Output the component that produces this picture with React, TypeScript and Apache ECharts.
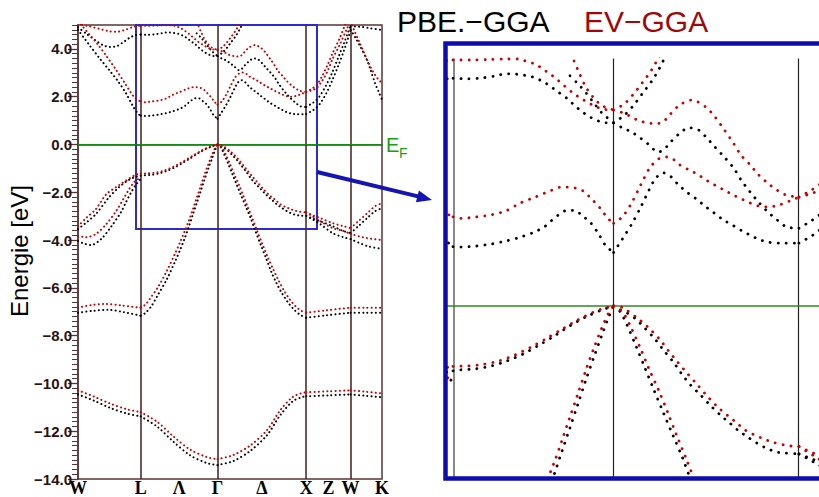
import React, { useEffect, useRef } from "react";
import * as echarts from "echarts";

// high-symmetry points along the path W-L-Γ-X-W-K (units 2π/a)
const K_W1 = 0;
const K_L = 0.707;
const K_G = 1.573;
const K_X = 2.573;
const K_W2 = 3.073;
const K_K = 3.427;
const symmetryK = [K_W1, K_L, K_G, K_X, K_W2, K_K];
const kLabelPositions = [0, 0.707, 1.14, 1.573, 2.073, 2.573, 2.823, 3.073, 3.427];
const kLabelNames = ["W", "L", "Λ", "Γ", "Δ", "X", "Z", "W", "K"];

// ---------- PBE-GGA (black) ----------
const pbeBand1 = [[0,-10.46],[0.18,-10.72],[0.36,-11.02],[0.55,-11.26],[0.707,-11.38],[0.89,-11.8],[1.07,-12.42],[1.26,-13.0],[1.45,-13.33],[1.573,-13.42],[1.75,-13.25],[1.94,-12.83],[2.13,-12.17],[2.28,-11.33],[2.42,-10.75],[2.52,-10.58],[2.573,-10.54],[2.82,-10.5],[3.073,-10.46],[3.25,-10.52],[3.427,-10.58]];
const pbeBand2 = [[0,-7.04],[0.17,-6.96],[0.34,-6.92],[0.52,-7.02],[0.707,-7.17],[0.76,-7.05],[0.83,-6.75],[0.9,-6.3],[1.0,-5.65],[1.1,-4.85],[1.15,-4.42],[1.2,-3.95],[1.252,-3.41],[1.295,-2.93],[1.338,-2.46],[1.381,-1.98],[1.424,-1.49],[1.467,-1.03],[1.51,-0.59],[1.549,-0.2],[1.573,0]];
const pbeBand3 = [[1.573,0],[1.61,-0.12],[1.645,-0.38],[1.694,-0.81],[1.742,-1.25],[1.791,-1.7],[1.842,-2.16],[1.893,-2.61],[1.943,-3.05],[2.0,-3.62],[2.06,-4.2],[2.12,-4.76],[2.18,-5.34],[2.24,-5.82],[2.3,-6.23],[2.37,-6.62],[2.44,-6.93],[2.51,-7.14],[2.573,-7.25],[2.8,-7.15],[3.073,-7.04],[3.25,-7.04],[3.427,-7.04]];
const pbeBand4 = [[0,-3.54],[0.1,-3.25],[0.2,-2.92],[0.35,-2.21],[0.45,-1.83],[0.54,-1.56],[0.63,-1.38],[0.707,-1.31],[0.745,-1.29],[0.831,-1.27],[0.917,-1.21],[0.998,-1.11],[1.085,-0.97],[1.171,-0.79],[1.252,-0.61],[1.338,-0.4],[1.424,-0.22],[1.51,-0.08],[1.573,0],[1.596,-0.06],[1.645,-0.14],[1.695,-0.27],[1.742,-0.45],[1.797,-0.67],[1.842,-0.89],[1.895,-1.13],[1.94,-1.37],[1.989,-1.6],[2.043,-1.8],[2.098,-2.02],[2.148,-2.2],[2.198,-2.36],[2.247,-2.52],[2.297,-2.65],[2.346,-2.77],[2.396,-2.87],[2.452,-2.95],[2.495,-2.97],[2.573,-2.99],[2.65,-3.1],[2.73,-3.21],[2.87,-3.42],[2.99,-3.62],[3.073,-3.71],[3.16,-3.42],[3.26,-3.08],[3.35,-2.79],[3.427,-2.67]];
const pbeBand5a = [[0,-4.04],[0.07,-4.15],[0.147,-4.21],[0.26,-3.96],[0.37,-3.46],[0.485,-2.83],[0.54,-2.42],[0.6,-2.0],[0.65,-1.7],[0.707,-1.45]];
const pbeBand5b = [[2.573,-2.99],[2.65,-3.15],[2.73,-3.33],[2.87,-3.71],[2.99,-3.88],[3.073,-3.96],[3.26,-4.25],[3.427,-4.37]];
const pbeBand6 = [[0,4.8],[0.12,4.2],[0.24,3.62],[0.35,3.12],[0.45,2.65],[0.54,2.15],[0.62,1.6],[0.67,1.32],[0.707,1.2],[0.75,1.19],[0.83,1.21],[0.91,1.25],[0.99,1.31],[1.07,1.39],[1.15,1.5],[1.2,1.6],[1.24,1.73],[1.28,1.85],[1.32,1.93],[1.365,1.93],[1.405,1.82],[1.445,1.7],[1.49,1.47],[1.53,1.22],[1.573,1.08],[1.62,1.35],[1.67,1.65],[1.72,2.0],[1.765,2.35],[1.8,2.58],[1.84,2.69],[1.88,2.62],[1.925,2.44],[1.975,2.28],[2.02,2.16],[2.065,2.02],[2.115,1.88],[2.165,1.74],[2.22,1.62],[2.265,1.52],[2.31,1.43],[2.355,1.35],[2.405,1.29],[2.47,1.27],[2.573,1.27],[2.63,1.39],[2.68,1.52],[2.73,1.72],[2.8,2.15],[2.87,2.72],[2.94,3.35],[3.0,3.95],[3.05,4.5],[3.073,4.8],[3.13,4.45],[3.19,4.05],[3.25,3.6],[3.3,3.1],[3.35,2.55],[3.39,2.2],[3.427,1.87]];
const pbeBand7 = [[0,4.9],[0.1,4.62],[0.2,4.35],[0.28,4.16],[0.36,4.08],[0.44,4.12],[0.51,4.28],[0.58,4.46],[0.65,4.58],[0.707,4.6],[0.785,4.59],[0.865,4.61],[0.94,4.65],[0.99,4.69],[1.03,4.69],[1.07,4.67],[1.115,4.65],[1.155,4.6],[1.195,4.53],[1.235,4.43],[1.275,4.32],[1.32,4.2],[1.36,4.06],[1.405,3.92],[1.445,3.82],[1.49,3.74],[1.53,3.7],[1.573,3.7],[1.62,3.6],[1.668,3.52],[1.715,3.4],[1.76,3.27],[1.814,3.11],[1.845,3.16],[1.875,3.29],[1.93,3.49],[1.98,3.6],[2.03,3.56],[2.07,3.42],[2.12,3.21],[2.17,3.01],[2.22,2.79],[2.26,2.55],[2.31,2.3],[2.355,2.1],[2.405,1.9],[2.455,1.74],[2.505,1.6],[2.573,1.57],[2.63,1.7],[2.68,1.83],[2.73,2.05],[2.8,2.5],[2.87,3.05],[2.94,3.7],[3.0,4.25],[3.05,4.75],[3.073,4.95],[3.2,4.92],[3.3,4.86],[3.427,4.79]];
const pbeBand8 = [[1.573,3.7],[1.63,3.85],[1.68,4.05],[1.73,4.3],[1.78,4.55],[1.82,4.8],[1.86,5.1],[1.9,5.4]];
const pbeBand9 = [[1.338,4.65],[1.381,4.49],[1.424,4.31],[1.467,4.1],[1.51,3.9],[1.573,3.7]];

// ---------- EV-GGA (red) ----------
const evBand1 = [[0,-10.29],[0.18,-10.55],[0.36,-10.84],[0.55,-11.08],[0.707,-11.2],[0.89,-11.6],[1.07,-12.2],[1.26,-12.76],[1.45,-13.08],[1.573,-13.17],[1.75,-13.0],[1.94,-12.6],[2.13,-11.96],[2.28,-11.12],[2.42,-10.57],[2.52,-10.41],[2.573,-10.37],[2.82,-10.33],[3.073,-10.29],[3.25,-10.35],[3.427,-10.42]];
const evBand2 = [[0,-6.83],[0.15,-6.72],[0.3,-6.67],[0.5,-6.74],[0.707,-6.83],[0.76,-6.7],[0.81,-6.46],[0.9,-5.98],[1.0,-5.3],[1.1,-4.52],[1.15,-4.1],[1.2,-3.65],[1.252,-3.17],[1.295,-2.71],[1.338,-2.24],[1.381,-1.77],[1.424,-1.29],[1.467,-0.85],[1.51,-0.44],[1.549,-0.12],[1.573,0]];
const evBand3 = [[1.573,0],[1.622,-0.12],[1.668,-0.44],[1.715,-0.83],[1.764,-1.27],[1.818,-1.72],[1.866,-2.16],[1.915,-2.63],[1.963,-3.07],[2.02,-3.62],[2.08,-4.18],[2.14,-4.72],[2.2,-5.22],[2.26,-5.68],[2.32,-6.1],[2.39,-6.5],[2.46,-6.8],[2.52,-6.97],[2.573,-7.04],[2.8,-6.94],[3.073,-6.83],[3.25,-6.83],[3.427,-6.83]];
const evBand4 = [[0,-3.42],[0.1,-3.05],[0.2,-2.71],[0.32,-2.08],[0.46,-1.71],[0.58,-1.42],[0.65,-1.27],[0.707,-1.22],[0.788,-1.21],[0.869,-1.18],[0.955,-1.11],[1.041,-0.99],[1.128,-0.83],[1.209,-0.66],[1.295,-0.47],[1.381,-0.28],[1.467,-0.12],[1.51,-0.06],[1.573,0],[1.62,-0.03],[1.72,-0.3],[1.77,-0.47],[1.825,-0.69],[1.87,-0.91],[1.92,-1.14],[1.97,-1.36],[2.02,-1.57],[2.09,-1.87],[2.14,-2.06],[2.19,-2.22],[2.24,-2.37],[2.28,-2.5],[2.33,-2.6],[2.38,-2.68],[2.43,-2.75],[2.51,-2.82],[2.573,-2.84],[2.65,-2.97],[2.73,-3.08],[2.87,-3.29],[2.99,-3.42],[3.073,-3.5],[3.16,-3.21],[3.26,-2.88],[3.35,-2.58],[3.427,-2.46]];
const evBand5a = [[0,-3.83],[0.09,-3.88],[0.2,-3.75],[0.32,-3.33],[0.43,-2.79],[0.51,-2.29],[0.58,-1.85],[0.64,-1.55],[0.707,-1.39]];
const evBand5b = [[2.573,-2.84],[2.65,-3.02],[2.73,-3.21],[2.87,-3.5],[2.99,-3.62],[3.073,-3.75],[3.26,-3.92],[3.427,-4.0]];
const evBand6 = [[0,5.15],[0.05,4.95],[0.13,4.6],[0.22,4.2],[0.32,3.7],[0.43,3.12],[0.54,2.5],[0.6,2.15],[0.65,1.92],[0.707,1.8],[0.75,1.77],[0.83,1.8],[0.91,1.84],[0.99,1.92],[1.07,2.08],[1.15,2.2],[1.24,2.34],[1.29,2.4],[1.325,2.4],[1.37,2.38],[1.41,2.32],[1.455,2.16],[1.5,1.98],[1.54,1.78],[1.573,1.67],[1.62,1.8],[1.67,2.08],[1.72,2.45],[1.77,2.8],[1.82,2.98],[1.86,3.01],[1.9,2.95],[1.93,2.85],[1.98,2.75],[2.03,2.65],[2.07,2.55],[2.12,2.44],[2.17,2.34],[2.22,2.24],[2.265,2.16],[2.31,2.08],[2.355,2.02],[2.405,2.0],[2.465,2.04],[2.535,2.14],[2.573,2.2],[2.63,2.26],[2.69,2.36],[2.75,2.65],[2.81,3.04],[2.87,3.58],[2.95,4.17],[3.03,4.83],[3.073,5.15],[3.12,4.72],[3.17,4.3],[3.22,3.88],[3.27,3.45],[3.33,3.02],[3.38,2.75],[3.427,2.56]];
const evBand7 = [[0,5.05],[0.12,4.95],[0.24,4.84],[0.35,4.74],[0.45,4.72],[0.55,4.82],[0.63,4.93],[0.707,4.97],[0.8,4.97],[0.9,4.98],[1.0,4.99],[1.065,4.99],[1.11,4.93],[1.15,4.89],[1.19,4.79],[1.23,4.69],[1.27,4.57],[1.31,4.44],[1.355,4.3],[1.395,4.2],[1.44,4.1],[1.48,4.02],[1.53,3.97],[1.573,3.96],[1.625,3.9],[1.67,3.82],[1.71,3.74],[1.76,3.7],[1.8,3.68],[1.84,3.72],[1.875,3.86],[1.93,4.06],[1.995,4.16],[2.07,4.02],[2.12,3.82],[2.17,3.56],[2.22,3.29],[2.26,3.05],[2.31,2.85],[2.355,2.65],[2.405,2.48],[2.455,2.34],[2.505,2.24],[2.573,2.2],[2.63,2.32],[2.69,2.48],[2.75,2.85],[2.81,3.3],[2.87,3.82],[2.95,4.45],[3.01,5.0],[3.05,5.3]];
const evBand8 = [[1.573,3.96],[1.63,4.08],[1.68,4.28],[1.73,4.52],[1.78,4.78],[1.82,5.05],[1.86,5.35]];
const evBand9 = [[1.36,4.95],[1.383,4.75],[1.424,4.42],[1.467,4.2],[1.51,4.05],[1.573,3.96]];

const pbeBands = [pbeBand1, pbeBand2, pbeBand3, pbeBand4, pbeBand5a, pbeBand5b, pbeBand6, pbeBand7, pbeBand8, pbeBand9];
const evBands = [evBand1, evBand2, evBand3, evBand4, evBand5a, evBand5b, evBand6, evBand7, evBand8, evBand9];

// zoom window shown in inset (k range, energy range)
const zoomBox = [[0.654, 5.0], [2.694, -3.54]];

const BLACK = "#000000";
const RED = "#c80000";
const FRAME = "#5a3434";

function splitAtSymmetry(points: number[][]) {
  const segs: number[][][] = [];
  let cur: number[][] = [];
  points.forEach((p, i) => {
    cur.push(p);
    const isSym = symmetryK.some((s) => Math.abs(s - p[0]) < 1e-6);
    if (isSym && cur.length > 1 && i < points.length - 1) {
      segs.push(cur);
      cur = [p];
    }
  });
  if (cur.length > 1) segs.push(cur);
  return segs;
}

function bandSeries(bands: number[][][], color: string, xi: number, yi: number, width: number, dash: number[]) {
  const out: any[] = [];
  bands.forEach((b) => {
    splitAtSymmetry(b).forEach((seg) => {
      out.push({
        type: "line",
        xAxisIndex: xi,
        yAxisIndex: yi,
        data: seg,
        smooth: 0.3,
        showSymbol: false,
        symbol: "none",
        clip: true,
        silent: true,
        z: 5,
        lineStyle: { color, width, type: dash, cap: "round" },
      });
    });
  });
  return out;
}

export default function App() {
  const ref = useRef<HTMLDivElement>(null);
  useEffect(() => {
    if (!ref.current) return;
    const chart = echarts.init(ref.current, undefined, { renderer: "svg" });

    const mainDash = [0.1, 4.1];
    const insetDash = [0.1, 7.9];

    const series: any[] = [];
    series.push({
      type: "line",
      xAxisIndex: 0,
      yAxisIndex: 0,
      data: [],
      silent: true,
      z: 2,
      markLine: {
        silent: true,
        symbol: "none",
        label: { show: false },
        animation: false,
        data: [
          { xAxis: K_L, lineStyle: { color: "#4e2a2a", width: 1.6, type: "solid" } },
          { xAxis: K_G, lineStyle: { color: "#4e2a2a", width: 1.6, type: "solid" } },
          { xAxis: K_X, lineStyle: { color: "#4e2a2a", width: 1.6, type: "solid" } },
          { xAxis: K_W2, lineStyle: { color: "#4e2a2a", width: 1.6, type: "solid" } },
          { yAxis: 0, lineStyle: { color: "#138a13", width: 1.2, type: "solid" } },
        ],
      },
      markArea: {
        silent: true,
        animation: false,
        itemStyle: { color: "rgba(0,0,0,0)", borderColor: "#2b2bd0", borderWidth: 2 },
        data: [[{ coord: zoomBox[0] }, { coord: zoomBox[1] }]],
      },
    });
    series.push({
      type: "line",
      xAxisIndex: 1,
      yAxisIndex: 2,
      data: [],
      silent: true,
      z: 2,
      markLine: {
        silent: true,
        symbol: "none",
        label: { show: false },
        animation: false,
        data: [
          { xAxis: K_L, lineStyle: { color: "#8a8a8a", width: 2, type: "solid" } },
          { xAxis: K_G, lineStyle: { color: "#222222", width: 1.2, type: "solid" } },
          { xAxis: K_X, lineStyle: { color: "#222222", width: 1.2, type: "solid" } },
          { yAxis: 0, lineStyle: { color: "#2e8a22", width: 1.5, type: "solid" } },
        ],
      },
    });

    series.push(...bandSeries(pbeBands, BLACK, 0, 0, 2, mainDash));
    series.push(...bandSeries(evBands, RED, 0, 0, 2, mainDash));
    series.push(...bandSeries(pbeBands, BLACK, 1, 2, 2.8, insetDash));
    series.push(...bandSeries(evBands, RED, 1, 2, 2.8, insetDash));

    const yLabel = (v: number) => (v < 0 ? "\u2212" : "") + Math.abs(v).toFixed(1);
    const kLabel = (v: number) => {
      const i = kLabelPositions.findIndex((p) => Math.abs(p - v) < 1e-3);
      return i >= 0 ? kLabelNames[i] : "";
    };

    const txt = (text: string, x: number, y: number, fill: string, font: string, align = "left", extra: any = {}) => ({
      type: "text",
      x,
      y,
      z: 50,
      ...extra,
      style: { text, fill, font, align, textAlign: align, verticalAlign: "middle", textVerticalAlign: "middle" },
    });

    const option: any = {
      animation: false,
      grid: [
        { left: 78, top: 25, width: 304, height: 456, show: true, borderColor: FRAME, borderWidth: 1.5, backgroundColor: "transparent" },
        { left: 447, top: 58.5, width: 372, height: 418.5, show: false },
      ],
      xAxis: [
        {
          gridIndex: 0,
          type: "value",
          min: 0,
          max: K_K,
          axisLine: { show: true, lineStyle: { color: FRAME, width: 1.5 } },
          axisTick: { show: false },
          splitLine: { show: false },
          axisLabel: {
            customValues: kLabelPositions,
            formatter: kLabel,
            color: "#000",
            fontFamily: "'Liberation Serif', 'DejaVu Serif', serif",
            fontWeight: "bold",
            fontSize: 18,
            margin: 0,
          },
        },
        { gridIndex: 1, type: "value", min: 0.6746, max: 2.681, show: false, splitLine: { show: false } },
      ],
      yAxis: [
        {
          gridIndex: 0,
          type: "value",
          min: -14,
          max: 5,
          interval: 2,
          position: "left",
          axisLine: { show: true, lineStyle: { color: FRAME, width: 1.5 } },
          axisTick: { show: true, length: 10, lineStyle: { color: FRAME, width: 1.3 } },
          splitLine: { show: false },
          axisLabel: {
            formatter: yLabel,
            showMaxLabel: false,
            color: "#2b1212",
            fontFamily: "'Liberation Sans', Arial, sans-serif",
            fontWeight: "bold",
            fontSize: 15,
            margin: 6,
          },
        },
        {
          gridIndex: 0,
          type: "value",
          min: -14,
          max: 5,
          interval: 0.2,
          position: "left",
          axisLine: { show: false },
          axisTick: { show: true, length: 6, lineStyle: { color: FRAME, width: 1 } },
          axisLabel: { show: false },
          splitLine: { show: false },
        },
        { gridIndex: 1, type: "value", min: -3.455, max: 5.0, show: false, splitLine: { show: false } },
      ],
      series,
      graphic: [
        txt("PBE.\u2212GGA", 397, 21, "#000", "30px 'Liberation Sans', Arial, sans-serif"),
        txt("EV\u2212GGA", 584, 21, "#a00808", "30px 'Liberation Sans', Arial, sans-serif"),
        txt("E", 386, 144.5, "#15a015", "20px 'Liberation Sans', Arial, sans-serif"),
        txt("F", 399, 153, "#15a015", "14px 'Liberation Sans', Arial, sans-serif"),
        txt("Energie [eV]", 19, 251, "#000", "24px 'Liberation Sans', Arial, sans-serif", "center", { rotation: Math.PI / 2 }),
        {
          type: "line",
          z: 60,
          shape: { x1: 317, y1: 172, x2: 419, y2: 196.6 },
          style: { stroke: "#1414b4", lineWidth: 4 },
        },
        {
          type: "polygon",
          z: 60,
          shape: { points: [[432, 200], [415.9, 202.2], [418.9, 190.6]] },
          style: { fill: "#1414b4" },
        },
        {
          type: "rect",
          z: 100,
          shape: { x: 445.5, y: 43.5, width: 450, height: 435 },
          style: { fill: "none", stroke: "#0c0cb0", lineWidth: 4.5 },
        },
      ],
    };
    chart.setOption(option);
    return () => chart.dispose();
  }, []);

  return (
    <div
      ref={ref}
      style={{ position: "fixed", left: 0, top: 0, width: 819, height: 497, background: "#fff" }}
    />
  );
}
